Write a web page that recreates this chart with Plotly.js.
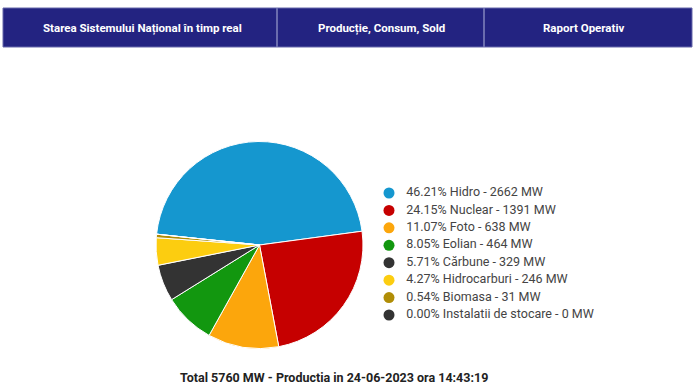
<!DOCTYPE html>
<html>
<head>
<meta charset="utf-8">
<script src="https://cdn.plot.ly/plotly-3.0.1.min.js"></script>
<style>html,body{margin:0;padding:0;background:#fff;}#chart{width:696px;height:385px;}</style>
</head>
<body>
<div id="chart"></div>
<script>
const sources = ["Hidro", "Nuclear", "Foto", "Eolian", "Cărbune", "Hidrocarburi", "Biomasa", "Instalatii de stocare"];
const mw = [2662, 1391, 638, 464, 329, 246, 31, 0];
const percents = ["46.21%", "24.15%", "11.07%", "8.05%", "5.71%", "4.27%", "0.54%", "0.00%"];
const colors = ["#1597cf", "#c60000", "#fca60c", "#12970f", "#333333", "#fccd10", "#b08d06", "#333333"];
const headerTabs = ["Starea Sistemului Național în timp real", "Producție, Consum, Sold", "Raport Operativ"];
const totalText = "Total 5760 MW - Productia in 24-06-2023 ora 14:43:19";

const W = 696, H = 385;
const cx = 259.5, cy = 245, r = 103.5;

const legendLabels = sources.map((s, i) => "\u00a0\u00a0\u00a0" + percents[i] + " " + s + " - " + mw[i] + " MW");

const traces = [{
  type: "pie",
  labels: sources,
  values: mw,
  sort: false,
  direction: "clockwise",
  rotation: -84,
  marker: {colors: colors, line: {color: "#ffffff", width: 1}},
  textinfo: "none",
  hoverinfo: "none",
  showlegend: false,
  domain: {x: [(cx - r) / W, (cx + r) / W], y: [(H - cy - r) / H, (H - cy + r) / H]}
}, {
  type: "scatter",
  mode: "markers+text",
  x: sources.map(() => 0),
  y: sources,
  text: legendLabels,
  textposition: "middle right",
  textfont: {family: "Roboto", size: 12.5, color: "#444444"},
  marker: {color: colors, size: 11, symbol: "circle"},
  cliponaxis: false,
  showlegend: false,
  hoverinfo: "none"
}];

const rowTop = 193, rowBottom = 315, rowStep = (rowBottom - rowTop) / (sources.length - 1);
const yTopPx = rowTop - rowStep / 2, yBotPx = rowBottom + rowStep / 2;

const tabEdges = [3, 277, 484, 692];
const shapes = [{
  type: "rect", xref: "paper", yref: "paper",
  x0: 3 / W, x1: 692 / W, y0: 1 - 47 / H, y1: 1 - 8 / H,
  fillcolor: "#232381", line: {color: "#6668aa", width: 1}, layer: "below"
}];
[277, 484].forEach(x => shapes.push({
  type: "line", xref: "paper", yref: "paper",
  x0: x / W, x1: x / W, y0: 1 - 47 / H, y1: 1 - 8 / H,
  line: {color: "#6a6cae", width: 2}
}));

const tabCenters = [142, 381, 583];
const annotations = headerTabs.map((t, i) => ({
  text: "<b>" + t + "</b>", xref: "paper", yref: "paper",
  x: tabCenters[i] / W, y: 1 - 28.5 / H,
  xanchor: "center", yanchor: "middle", showarrow: false,
  font: {family: "Roboto", size: 11.5, color: "#ffffff"}
}));
annotations.push({
  text: "<b>" + totalText + "</b>", xref: "paper", yref: "paper",
  x: 334 / W, y: 1 - 377 / H, xanchor: "center", yanchor: "middle", showarrow: false,
  font: {family: "Roboto", size: 12.5, color: "#222222"}
});

const layout = {
  width: W, height: H,
  margin: {l: 0, r: 0, t: 0, b: 0},
  paper_bgcolor: "#ffffff", plot_bgcolor: "rgba(0,0,0,0)",
  xaxis: {visible: false, domain: [389 / W, 1], range: [0, 1], fixedrange: true},
  yaxis: {visible: false, type: "category", domain: [1 - yBotPx / H, 1 - yTopPx / H],
          range: [sources.length - 0.5, -0.5], fixedrange: true},
  showlegend: false,
  shapes: shapes,
  annotations: annotations
};

Plotly.newPlot("chart", traces, layout, {staticPlot: true, displayModeBar: false});
</script>
</body>
</html>
